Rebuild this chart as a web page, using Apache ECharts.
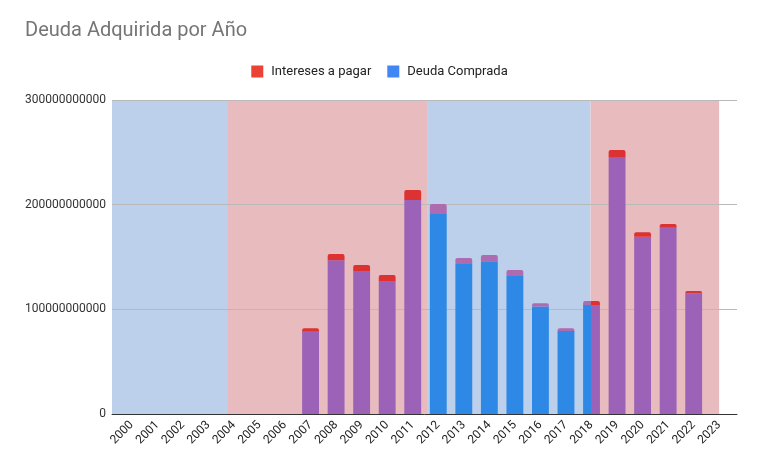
<!DOCTYPE html>
<html>
<head>
<meta charset="utf-8">
<script src="https://cdn.jsdelivr.net/npm/echarts@6/dist/echarts.min.js"></script>
<style>html,body{margin:0;padding:0;background:#fff}#c{width:759px;height:469px}</style>
</head>
<body>
<div id="c"></div>
<script>
// ---- data ----
const years = ['2000','2001','2002','2003','2004','2005','2006','2007','2008','2009','2010','2011',
               '2012','2013','2014','2015','2016','2017','2018','2019','2020','2021','2022','2023'];
const deudaComprada = [0,0,0,0,0,0,0,78.6e9,147e9,136.6e9,127e9,204.5e9,
                       191e9,143.3e9,146e9,131.8e9,102.6e9,79.3e9,104.2e9,244.9e9,169.4e9,178e9,115.3e9,0];
const interesesAPagar = [0,0,0,0,0,0,0,3.3e9,5.9e9,5.8e9,5.8e9,9.5e9,
                         9.6e9,5.7e9,6e9,5.8e9,3.2e9,2.6e9,3.8e9,7.3e9,4.2e9,3.5e9,2.2e9,0];
const yTicks = [0, 100000000000, 200000000000, 300000000000];
// background periods (edges in years)
const periodStart = [1999.22, 2003.73, 2011.57, 2017.98];
const periodEnd   = [2003.73, 2011.57, 2017.98, 2023.02];
const periodType  = ['azul', 'rojo', 'azul', 'rojo'];

// ---- styles ----
const bandFill = { azul: '#bcd0ec', rojo: '#e8bbbe' };
const barFill = {
  azul: { deuda: '#2d88e6', intereses: '#ad6bb0' },
  rojo: { deuda: '#9b62b7', intereses: '#dc3232' }
};
const BAR_FRAC = 0.66;
const FONT = 'Roboto, Arial, sans-serif';

function itemColor(i, kind) {
  const y = Number(years[i]);
  const l = y - BAR_FRAC / 2, r = y + BAR_FRAC / 2;
  const hits = [];
  for (let k = 0; k < periodStart.length; k++) {
    if (periodEnd[k] > l && periodStart[k] < r) hits.push(k);
  }
  if (hits.length === 0) return barFill.azul[kind];
  if (hits.length === 1) return barFill[periodType[hits[0]]][kind];
  const a = barFill[periodType[hits[0]]][kind];
  const b = barFill[periodType[hits[1]]][kind];
  const f = (periodEnd[hits[0]] - l) / (r - l);
  return { type: 'linear', x: 0, y: 0, x2: 1, y2: 0,
    colorStops: [{offset: 0, color: a}, {offset: f, color: a}, {offset: f, color: b}, {offset: 1, color: b}] };
}

const chart = echarts.init(document.getElementById('c'), null, { renderer: 'canvas' });
const yMax = yTicks[yTicks.length - 1];

chart.setOption({
  animation: false,
  textStyle: { fontFamily: FONT },
  title: {
    text: 'Deuda Adquirida por Año', left: 25, top: 21, padding: 0,
    textStyle: { fontSize: 20, fontWeight: 'normal', color: '#757575', fontFamily: FONT }
  },
  legend: {
    data: ['Intereses a pagar', 'Deuda Comprada'],
    left: 'center', top: 60, icon: 'rect', itemWidth: 12, itemHeight: 12, itemGap: 16,
    textStyle: { fontSize: 13, color: '#222', fontFamily: FONT, padding: [0, 0, 0, 3] }
  },
  grid: [
    { left: 112, right: 22, top: 100, bottom: 55 },
    { left: 119, right: 27, top: 100, bottom: 55 }
  ],
  xAxis: [
    { type: 'value', gridIndex: 0, min: 1999.22, max: 2023.72, z: 6,
      axisLine: { show: true, lineStyle: { color: '#333', width: 1 } },
      axisTick: { show: false }, axisLabel: { show: false }, splitLine: { show: false } },
    { type: 'category', gridIndex: 1, data: years,
      axisLine: { show: false }, axisTick: { show: false },
      axisLabel: { rotate: 45, fontSize: 12, color: '#222', margin: 9, interval: 0, fontFamily: FONT } }
  ],
  yAxis: [
    { type: 'value', gridIndex: 0, min: 0, max: yMax, interval: yTicks[1] - yTicks[0], z: 3,
      axisLine: { show: false }, axisTick: { show: false },
      axisLabel: { fontSize: 12, color: '#333', margin: 6, fontFamily: FONT, formatter: v => String(v) },
      splitLine: { show: true, lineStyle: { color: '#b9b9b9', width: 1 } } },
    { type: 'value', gridIndex: 1, min: 0, max: yMax, show: false }
  ],
  series: [
    { type: 'custom', name: 'periodos', xAxisIndex: 0, yAxisIndex: 0, z: 1, silent: true,
      data: periodStart.map((s, k) => [s, periodEnd[k], periodType[k] === 'azul' ? 0 : 1]),
      encode: { x: [0, 1] },
      renderItem: (params, api) => {
        const p0 = api.coord([api.value(0), yMax]);
        const p1 = api.coord([api.value(1), 0]);
        return { type: 'rect',
          shape: { x: p0[0], y: p0[1], width: p1[0] - p0[0], height: p1[1] - p0[1] },
          style: { fill: api.value(2) === 0 ? bandFill.azul : bandFill.rojo } };
      } },
    { type: 'bar', name: 'Deuda Comprada', xAxisIndex: 1, yAxisIndex: 1, stack: 'total', z: 5,
      barWidth: (BAR_FRAC * 100) + '%',
      itemStyle: { color: '#4285f4' },
      data: deudaComprada.map((v, i) => ({ value: v, itemStyle: { color: itemColor(i, 'deuda') } })) },
    { type: 'bar', name: 'Intereses a pagar', xAxisIndex: 1, yAxisIndex: 1, stack: 'total', z: 5,
      barWidth: (BAR_FRAC * 100) + '%',
      itemStyle: { color: '#ea4335' },
      data: interesesAPagar.map((v, i) => ({ value: v, itemStyle: { color: itemColor(i, 'intereses'), borderRadius: [2, 2, 0, 0] } })) }
  ]
});
</script>
</body>
</html>
